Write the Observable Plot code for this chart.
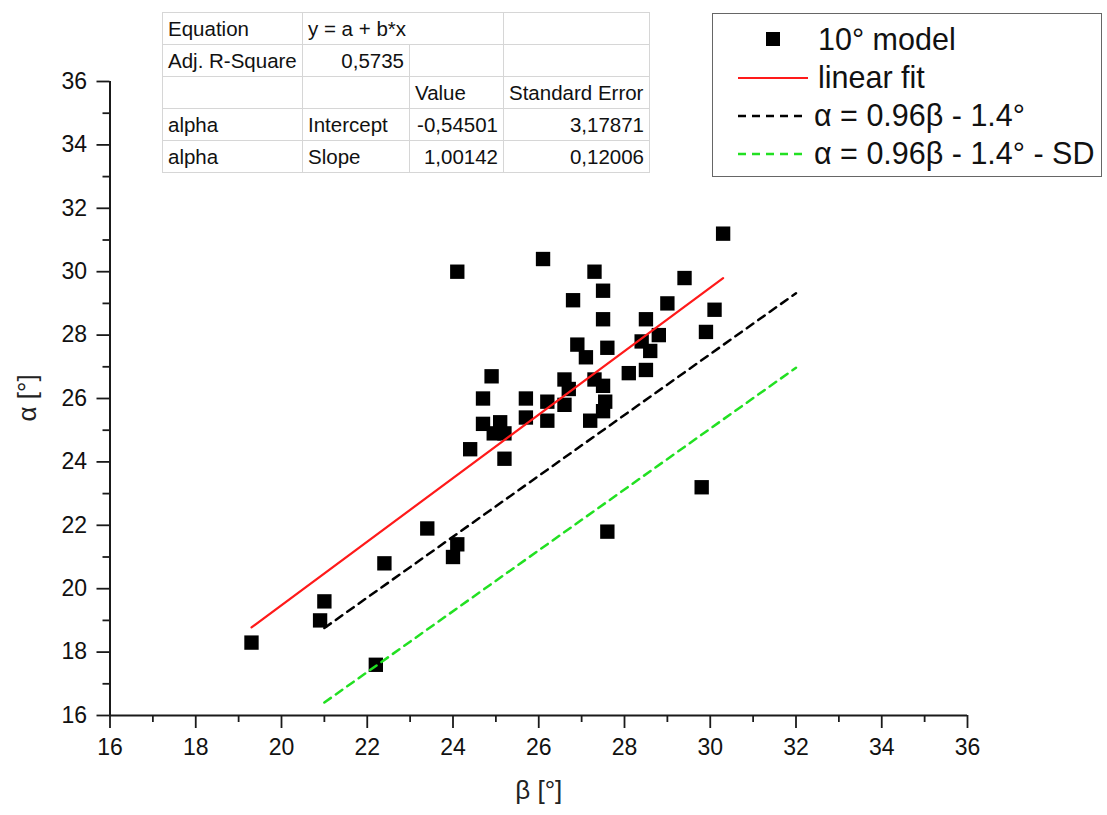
<!DOCTYPE html>
<html>
<head>
<meta charset="utf-8">
<script src="https://cdn.jsdelivr.net/npm/d3@7"></script>
<script src="https://cdn.jsdelivr.net/npm/@observablehq/plot@0.6"></script>
<style>
  body { margin: 0; background: #fff; font-family: "Liberation Sans", Arial, sans-serif; }
  #wrap { position: relative; width: 1107px; height: 815px; overflow: hidden; }
  #chart { position: absolute; left: 0; top: 0; }
  table.stats { position: absolute; left: 162px; top: 12px; border-collapse: collapse; table-layout: fixed;
    font-size: 20.5px; color: #111; border: 1.5px solid #8a8a8a; background: #fff; }
  table.stats td { border: 1px solid #d6d6d6; height: 32px; padding: 0 5px; white-space: nowrap; overflow: hidden; box-sizing: border-box; }
  table.stats td.r { text-align: right; }
  #legend { position: absolute; left: 712px; top: 13px; width: 390px; height: 164px; box-sizing: border-box;
    border: 1.5px solid #666; background: #fff; }
  #legend svg text { font-family: "Liberation Sans", Arial, sans-serif; font-size: 30.5px; fill: #111; }
</style>
</head>
<body>
<div id="wrap">
  <div id="chart"></div>
  <table class="stats" id="stats"></table>
  <div id="legend"></div>
</div>
<script>
// ---- data ----
const beta  = [19.3, 20.9, 21.0, 22.4, 22.2, 23.4, 24.0, 24.1, 24.1, 24.4,
               24.7, 24.7, 24.9, 24.95, 25.1, 25.2, 25.2, 25.7, 25.7, 26.1,
               26.2, 26.2, 26.6, 26.6, 26.7, 26.8, 26.9, 27.1, 27.2, 27.3,
               27.3, 27.5, 27.5, 27.5, 27.5, 27.6, 27.55, 27.6, 28.1, 28.4,
               28.5, 28.5, 28.6, 28.8, 29.0, 29.4, 30.1, 29.9, 29.8, 30.3];
const alpha = [18.3, 19.0, 19.6, 20.8, 17.6, 21.9, 21.0, 21.4, 30.0, 24.4,
               25.2, 26.0, 26.7, 24.9, 25.25, 24.9, 24.1, 26.0, 25.4, 30.4,
               25.9, 25.3, 26.6, 25.8, 26.3, 29.1, 27.7, 27.3, 25.3, 30.0,
               26.6, 29.4, 28.5, 26.4, 25.6, 27.6, 25.9, 21.8, 26.8, 27.8,
               28.5, 26.9, 27.5, 28.0, 29.0, 29.8, 28.8, 28.1, 23.2, 31.2];

const fitBeta    = [19.3, 30.3];
const fitAlpha   = [18.78, 29.8];
const modelBeta  = [21, 32];
const modelAlpha = [18.76, 29.32];
const sdBeta     = [21, 32];
const sdAlpha    = [16.41, 26.97];

const xTicks = [16, 18, 20, 22, 24, 26, 28, 30, 32, 34, 36];
const xMinor = [17, 19, 21, 23, 25, 27, 29, 31, 33, 35];
const yTicks = [16, 18, 20, 22, 24, 26, 28, 30, 32, 34, 36];
const yMinor = [17, 19, 21, 23, 25, 27, 29, 31, 33, 35];

const xTitle = "β [°]";
const yTitle = "α [°]";

const legendLabels = ["10° model", "linear fit", "α = 0.96β - 1.4°", "α = 0.96β - 1.4° - SD"];
const legendColors = ["#000", "#ff1a1a", "#000", "#22e022"];

const tableRows = [
  ["Equation", "y = a + b*x", null, ""],
  ["Adj. R-Square", "0,5735", "", ""],
  ["", "", "Value", "Standard Error"],
  ["alpha", "Intercept", "-0,54501", "3,17871"],
  ["alpha", "Slope", "1,00142", "0,12006"]
];
const tableColWidths = [140, 107, 94, 146];

// ---- build tables for the library ----
const points = beta.map((b, i) => ({b, a: alpha[i]}));
const fit = fitBeta.map((b, i) => ({b, a: fitAlpha[i]}));
const model = modelBeta.map((b, i) => ({b, a: modelAlpha[i]}));
const sd = sdBeta.map((b, i) => ({b, a: sdAlpha[i]}));

const axisColor = "#1a1a1a";

const chart = Plot.plot({
  width: 1107,
  height: 815,
  marginLeft: 109.5,
  marginRight: 140,
  marginTop: 81,
  marginBottom: 100,
  x: {domain: [16, 36], label: null},
  y: {domain: [16, 36], label: null},
  style: {fontFamily: "Liberation Sans, Arial, sans-serif", fontSize: "23px", color: "#111", background: "white", overflow: "visible"},
  marks: [
    Plot.axisX({ticks: xMinor, tickSize: 7, strokeWidth: 1.8, stroke: axisColor, tickFormat: () => "", label: null}),
    Plot.axisX({ticks: xTicks, tickSize: 13, strokeWidth: 1.8, stroke: axisColor, tickPadding: 10, label: null, fill: "#111", fontSize: 23}),
    Plot.axisY({ticks: yMinor, tickSize: 7, strokeWidth: 1.8, stroke: axisColor, tickFormat: () => "", label: null}),
    Plot.axisY({ticks: yTicks, tickSize: 13, strokeWidth: 1.8, stroke: axisColor, tickPadding: 10, label: null, fill: "#111", fontSize: 23}),
    Plot.ruleY([16], {stroke: axisColor, strokeWidth: 2}),
    Plot.ruleX([16], {stroke: axisColor, strokeWidth: 2}),
    Plot.dot(points, {x: "b", y: "a", symbol: "square", r: 8.1, fill: "#000", stroke: "none"}),
    Plot.line(fit, {x: "b", y: "a", stroke: legendColors[1], strokeWidth: 2.2}),
    Plot.line(model, {x: "b", y: "a", stroke: legendColors[2], strokeWidth: 2.5, strokeDasharray: "8,6"}),
    Plot.line(sd, {x: "b", y: "a", stroke: legendColors[3], strokeWidth: 2.5, strokeDasharray: "8,6"}),
    Plot.text([xTitle], {frameAnchor: "bottom", dy: 83, fontSize: 26, fill: "#222"}),
    Plot.text([yTitle], {frameAnchor: "left", dx: -82, dy: 23, rotate: -90, fontSize: 26, fill: "#222"})
  ]
});
document.getElementById("chart").appendChild(chart);

// ---- statistics table ----
const tbl = document.getElementById("stats");
const colgroup = document.createElement("colgroup");
tableColWidths.forEach(w => { const c = document.createElement("col"); c.style.width = w + "px"; colgroup.appendChild(c); });
tbl.appendChild(colgroup);
tableRows.forEach((row, ri) => {
  const tr = document.createElement("tr");
  for (let ci = 0; ci < row.length; ci++) {
    if (row[ci] === null) continue;
    const td = document.createElement("td");
    td.textContent = row[ci];
    if (row[ci + 1] === null) td.colSpan = 2;
    const isNum = /^-?\d/.test(row[ci]);
    if (isNum) td.className = "r";
    tr.appendChild(td);
  }
  tbl.appendChild(tr);
});

// ---- legend ----
const ns = "http://www.w3.org/2000/svg";
const lsvg = document.createElementNS(ns, "svg");
lsvg.setAttribute("width", 390);
lsvg.setAttribute("height", 164);
const rowY = [25, 63, 101, 139];
legendLabels.forEach((lab, i) => {
  const y = rowY[i];
  if (i === 0) {
    const r = document.createElementNS(ns, "rect");
    r.setAttribute("x", 53); r.setAttribute("y", y - 7);
    r.setAttribute("width", 14); r.setAttribute("height", 14);
    r.setAttribute("fill", legendColors[i]);
    lsvg.appendChild(r);
  } else {
    const l = document.createElementNS(ns, "line");
    l.setAttribute("x1", 25); l.setAttribute("x2", 95);
    l.setAttribute("y1", y + 1); l.setAttribute("y2", y + 1);
    l.setAttribute("stroke", legendColors[i]);
    l.setAttribute("stroke-width", i === 1 ? 2.2 : 2.5);
    if (i > 1) l.setAttribute("stroke-dasharray", "8,6");
    lsvg.appendChild(l);
  }
  const t = document.createElementNS(ns, "text");
  t.setAttribute("x", i < 2 ? 105 : 101);
  t.setAttribute("y", y + 11);
  t.textContent = lab;
  lsvg.appendChild(t);
});
document.getElementById("legend").appendChild(lsvg);
</script>
</body>
</html>
